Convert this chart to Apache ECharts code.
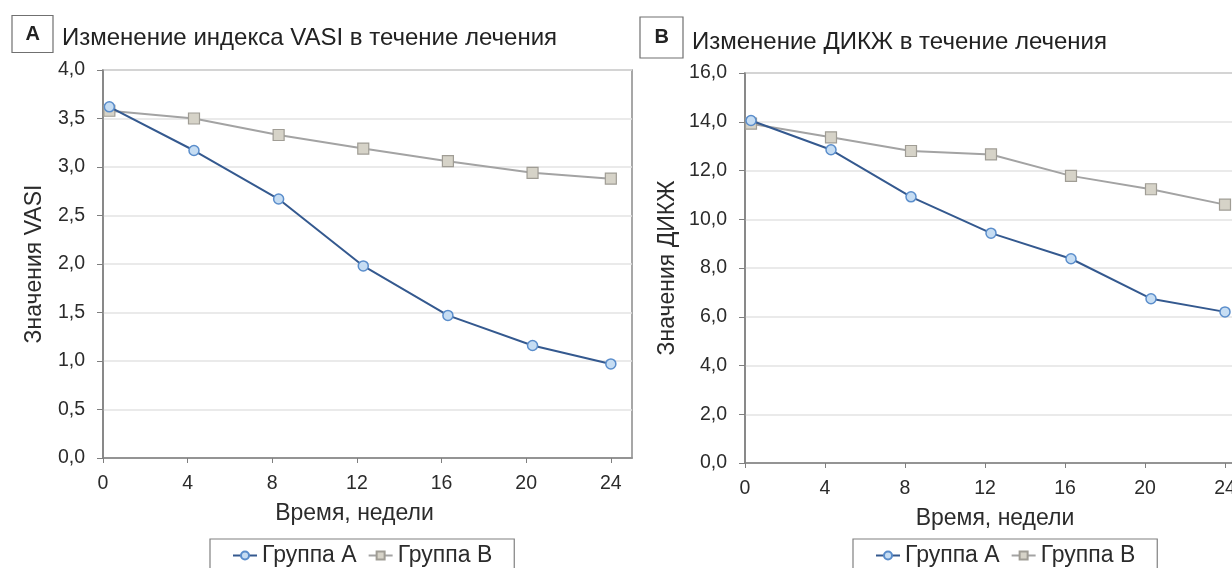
<!DOCTYPE html>
<html>
<head>
<meta charset="utf-8">
<script src="https://cdn.jsdelivr.net/npm/echarts@6/dist/echarts.min.js"></script>
<style>
  html, body { margin: 0; padding: 0; overflow: hidden; background: #fff; }
  #chart { width: 1260px; height: 568px; }
</style>
</head>
<body>
<div id="chart"></div>
<script>
// Measurement weeks and axis ticks
const weeks = [0.3, 4.3, 8.3, 12.3, 16.3, 20.3, 24];
const weekTicks = [0, 4, 8, 12, 16, 20, 24];

// VASI index by group
const vasiGroupA = [3.62, 3.17, 2.67, 1.98, 1.47, 1.16, 0.97];
const vasiGroupB = [3.58, 3.50, 3.33, 3.19, 3.06, 2.94, 2.88];

// ДИКЖ by group
const dlqiGroupA = [14.05, 12.85, 10.92, 9.43, 8.38, 6.74, 6.20];
const dlqiGroupB = [13.92, 13.36, 12.80, 12.66, 11.78, 11.23, 10.60];

const groupNames = ['Группа A', 'Группа B'];

const FONT = '"Liberation Sans", Arial, sans-serif';
const TEXT = '#2b2b2b';
const AXIS = '#7f7f7f';

const pairs = (ys) => weeks.map((w, i) => [w, ys[i]]);
const comma = (v) => v.toFixed(1).replace('.', ',');

function seriesA(name, data, xi) {
  return {
    name, type: 'line', xAxisIndex: xi, yAxisIndex: xi, data: pairs(data),
    symbol: 'circle', symbolSize: 10,
    lineStyle: { color: '#34598f', width: 2 },
    itemStyle: { color: '#c6ddf3', borderColor: '#5a8dcb', borderWidth: 1.5 },
    z: 3, animation: false
  };
}
function seriesB(name, data, xi) {
  return {
    name, type: 'line', xAxisIndex: xi, yAxisIndex: xi, data: pairs(data),
    symbol: 'rect', symbolSize: 11,
    lineStyle: { color: '#a3a3a3', width: 2 },
    itemStyle: { color: '#d6d3c8', borderColor: '#a09d95', borderWidth: 1.2 },
    z: 2, animation: false
  };
}

// shiftLeft moves the centred axis title left by half the given padding
function xAxis(gi, shiftLeft) {
  return {
    type: 'value', gridIndex: gi, min: 0, max: 25,
    name: 'Время, недели', nameLocation: 'middle', nameGap: 44,
    nameTextStyle: { fontFamily: FONT, fontSize: 23, color: TEXT, padding: [0, shiftLeft, 0, 0] },
    axisLine: { show: true, lineStyle: { color: AXIS, width: 1.5 } },
    axisTick: { show: true, inside: false, length: 5, customValues: weekTicks, lineStyle: { color: AXIS } },
    axisLabel: { customValues: weekTicks, margin: 16, fontFamily: FONT, fontSize: 19.5, color: TEXT },
    splitLine: { show: false }
  };
}
function yAxis(gi, max, step, name, gap) {
  return {
    type: 'value', gridIndex: gi, min: 0, max, interval: step,
    name, nameLocation: 'middle', nameGap: gap,
    nameTextStyle: { fontFamily: FONT, fontSize: 23, color: TEXT },
    axisLine: { show: true, lineStyle: { color: AXIS, width: 1.5 } },
    axisTick: { show: true, length: 6, lineStyle: { color: AXIS } },
    axisLabel: { formatter: comma, margin: 18, fontFamily: FONT, fontSize: 19.5, color: TEXT },
    splitLine: { show: true, lineStyle: { color: '#e3e3e3', width: 1.5 } }
  };
}

function panelTitle(letter, text, bx, by, pad, tx, ty) {
  return [
    { text: letter, left: bx, top: by, padding: pad,
      borderColor: '#707070', borderWidth: 1.2,
      textStyle: { fontFamily: FONT, fontSize: 20, fontWeight: 'bold', color: '#222' } },
    { text, left: tx, top: ty, padding: 0,
      textStyle: { fontFamily: FONT, fontSize: 24, fontWeight: 'normal', color: '#222' } }
  ];
}

function legend(left) {
  return {
    data: groupNames, left, top: 539, orient: 'horizontal',
    padding: [5, 22, 14, 22], itemGap: 11, itemWidth: 24, itemHeight: 10,
    borderColor: '#808080', borderWidth: 1.2,
    textStyle: { fontFamily: FONT, fontSize: 23, color: TEXT },
    selectedMode: false
  };
}

const option = {
  backgroundColor: '#fff',
  animation: false,
  title: [
    ...panelTitle('A', 'Изменение индекса VASI в течение лечения', 12, 15, [9, 13.5, 9, 13.5], 62, 26),
    ...panelTitle('B', 'Изменение ДИКЖ в течение лечения', 640, 17, [10.5, 14.5, 10.5, 14.5], 692, 30)
  ],
  legend: [legend(210), legend(853)],
  grid: [
    { left: 103, top: 70, width: 529, height: 388, show: true, borderColor: '#8a8a8a', borderWidth: 1.5, backgroundColor: 'transparent' },
    { left: 745, top: 73, width: 500, height: 390, show: true, borderColor: '#8a8a8a', borderWidth: 1.5, backgroundColor: 'transparent' }
  ],
  xAxis: [xAxis(0, 26), xAxis(1, 0)],
  yAxis: [
    yAxis(0, 4, 0.5, 'Значения VASI', 56.5),
    yAxis(1, 16, 2, 'Значения ДИКЖ', 65.5)
  ],
  series: [
    seriesA(groupNames[0], vasiGroupA, 0),
    seriesB(groupNames[1], vasiGroupB, 0),
    seriesA(groupNames[0], dlqiGroupA, 1),
    seriesB(groupNames[1], dlqiGroupB, 1)
  ]
};

const chart = echarts.init(document.getElementById('chart'), null, { renderer: 'canvas' });
chart.setOption(option);
</script>
</body>
</html>
